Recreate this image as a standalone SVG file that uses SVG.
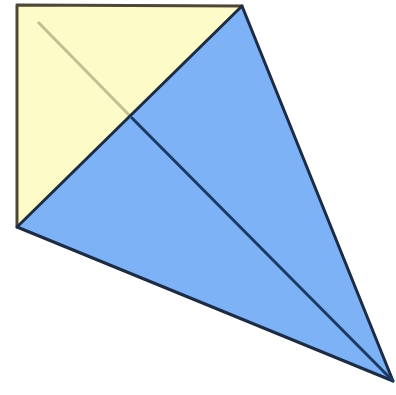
<svg xmlns="http://www.w3.org/2000/svg" width="396" height="395" viewBox="0 0 396 395">
<style>
.edge{fill:none;stroke-width:3;stroke-linecap:round;stroke-linejoin:round}
</style>
<rect width="396" height="395" fill="#ffffff"/>
<g id="yellow">
<polygon points="17,5 242,6 17,227" fill="#fdfcc8"/>
<line x1="38" y1="22" x2="132" y2="118" stroke="#c2c092" stroke-width="3"/>
</g>
<g id="blue">
<polygon points="242,6 17,227 393,381" fill="#7eb2f6"/>
</g>
<g id="connectors">
<polyline class="edge" points="242,6 17,5 17,227" stroke="#4e4636"/>
<polygon class="edge" points="242,6 17,227 393,381" stroke="#1c2c44"/>
<line class="edge" x1="132" y1="118" x2="393" y2="381" stroke="#1c3a66"/>
</g>
</svg>
